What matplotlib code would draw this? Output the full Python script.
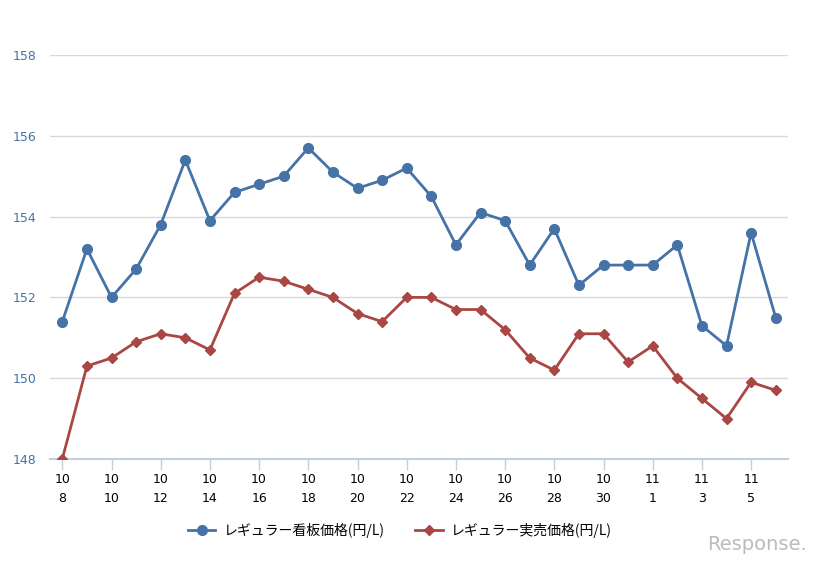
import matplotlib
matplotlib.use("Agg")
import matplotlib.pyplot as plt

plt.rcParams['font.family'] = ['Noto Sans CJK JP', 'DejaVu Sans']

# dates 10/8 .. 11/6
months = [10] * 24 + [11] * 6
days = list(range(8, 32)) + list(range(1, 7))

signboard = [151.4, 153.2, 152.0, 152.7, 153.8, 155.4, 153.9, 154.6, 154.8, 155.0,
             155.7, 155.1, 154.7, 154.9, 155.2, 154.5, 153.3, 154.1, 153.9, 152.8,
             153.7, 152.3, 152.8, 152.8, 152.8, 153.3, 151.3, 150.8, 153.6, 151.5]
actual = [148.0, 150.3, 150.5, 150.9, 151.1, 151.0, 150.7, 152.1, 152.5, 152.4,
          152.2, 152.0, 151.6, 151.4, 152.0, 152.0, 151.7, 151.7, 151.2, 150.5,
          150.2, 151.1, 151.1, 150.4, 150.8, 150.0, 149.5, 149.0, 149.9, 149.7]

labels = ["レギュラー看板価格(円/L)", "レギュラー実売価格(円/L)"]
blue = "#4572A7"
red = "#AA4643"

fig = plt.figure(figsize=(8.25, 5.66), dpi=100)
ax = fig.add_axes([50 / 825, 1 - 459 / 566, 738 / 825, 404 / 566])

x = list(range(len(days)))
ax.plot(x, signboard, color=blue, lw=2, marker='o', ms=7, label=labels[0], zorder=3)
ax.plot(x, actual, color=red, lw=2, marker='D', ms=5.5, label=labels[1], zorder=3)

ax.set_xlim(-0.5, len(x) - 0.5)
ax.set_ylim(148, 158)
ax.set_yticks(range(148, 159, 2))
ax.yaxis.grid(True, color="#d8d8d8", lw=1)
ax.set_axisbelow(True)

tick_pos = x[::2]
ax.set_xticks(tick_pos)
ax.set_xticklabels([f"{months[i]}\n{days[i]}" for i in tick_pos], fontsize=9,
                   family=['DejaVu Sans'], linespacing=1.6)
ax.tick_params(axis='x', length=8, color="#c0d0e0", width=1, pad=2)
ax.tick_params(axis='y', length=0, labelcolor="#4572A7", labelsize=9, pad=27)
for lbl in ax.get_yticklabels():
    lbl.set_horizontalalignment('left')
    lbl.set_family(['DejaVu Sans'])

for s in ['top', 'right', 'left']:
    ax.spines[s].set_visible(False)
ax.spines['bottom'].set_color("#c0d0e0")
ax.spines['bottom'].set_linewidth(1.5)

fig.legend(loc='center', bbox_to_anchor=(400 / 825, 1 - 530 / 566), ncol=2,
           frameon=False, fontsize=10, handlelength=2.0, columnspacing=2.2,
           handletextpad=0.6)

fig.text(757 / 825, 1 - 545 / 566, "Response.", fontsize=14, color="#bbbbbb",
         ha='center', va='center', family=['DejaVu Sans'])

fig.savefig("out.png", dpi=100)
